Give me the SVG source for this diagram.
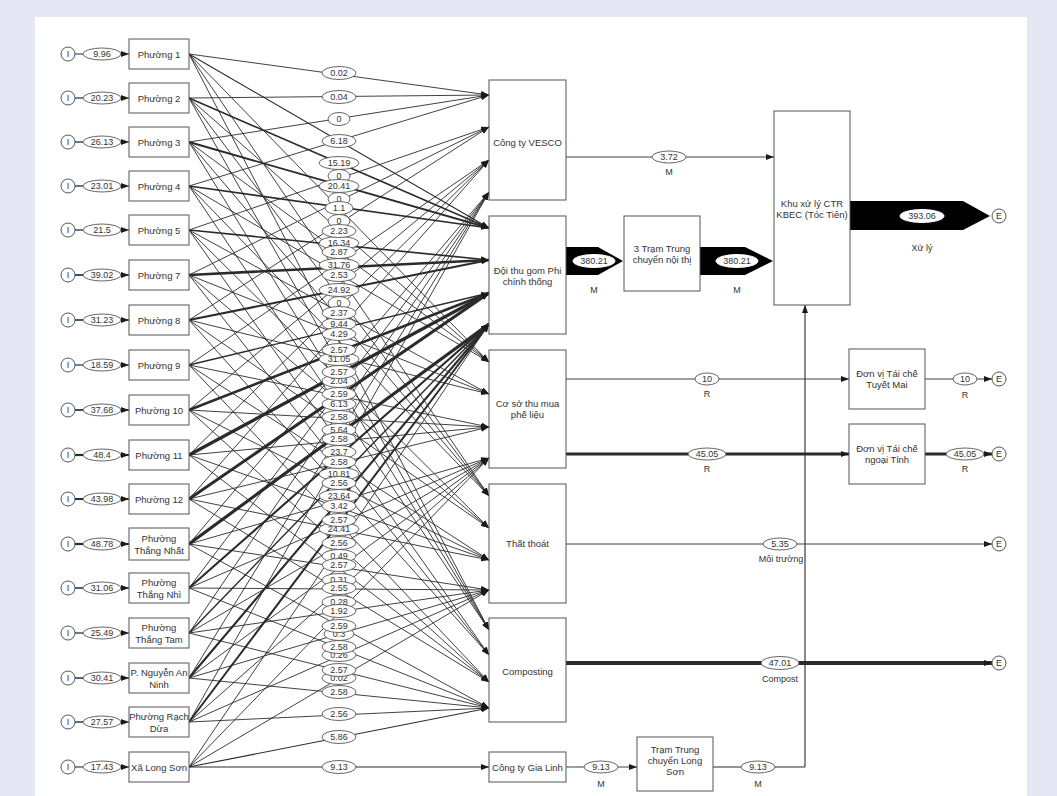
<svg xmlns="http://www.w3.org/2000/svg" width="1057" height="796" viewBox="0 0 1057 796">
<style>
.bx{fill:#fff;stroke:#555;stroke-width:1}
.t{font-family:'Liberation Sans',Arial,sans-serif;font-size:9.5px;fill:#333;text-anchor:middle;dominant-baseline:central}
.s{font-size:9px}
.el{fill:#fff;stroke:#555;stroke-width:0.9}
.f{stroke:#2b2b2b;fill:none;stroke-width:0.9}
.fa{stroke:#2b2b2b;fill:none;stroke-width:0.9;marker-end:url(#ah)}
.ci{fill:#fff;stroke:#555;stroke-width:1}
</style>
<defs>
<marker id="ah" viewBox="0 0 8 6" refX="8" refY="3" markerWidth="8" markerHeight="6" markerUnits="userSpaceOnUse" orient="auto"><path d="M0,0 L8,3 L0,6 z" fill="#1a1a1a"/></marker>
</defs>
<rect x="0" y="0" width="1057" height="796" fill="#e5e8f4"/>
<rect x="35" y="17" width="992" height="779" fill="#fff"/>

<g id="connectors">
<g id="middle-lines">
<line class="fa" x1="189" y1="54" x2="489" y2="95"/><line class="fa" x1="189" y1="54" x2="489" y2="228" style="stroke-width:1.1"/><line class="fa" x1="189" y1="54" x2="489" y2="362"/><line class="fa" x1="189" y1="54" x2="489" y2="496"/><line class="fa" x1="189" y1="54" x2="489" y2="630"/>
<line class="fa" x1="189" y1="98" x2="489" y2="95"/><line class="fa" x1="189" y1="98" x2="489" y2="228" style="stroke-width:1.6"/><line class="fa" x1="189" y1="98" x2="489" y2="362"/><line class="fa" x1="189" y1="98" x2="489" y2="496"/><line class="fa" x1="189" y1="98" x2="489" y2="630"/>
<line class="fa" x1="189" y1="142" x2="489" y2="95"/><line class="fa" x1="189" y1="142" x2="489" y2="228" style="stroke-width:1.9"/><line class="fa" x1="189" y1="142" x2="489" y2="362"/><line class="fa" x1="189" y1="142" x2="489" y2="496"/><line class="fa" x1="189" y1="142" x2="489" y2="630"/>
<line class="fa" x1="189" y1="186" x2="489" y2="95"/><line class="fa" x1="189" y1="186" x2="489" y2="228" style="stroke-width:1.7"/><line class="fa" x1="189" y1="186" x2="489" y2="362"/><line class="fa" x1="189" y1="186" x2="489" y2="496"/><line class="fa" x1="189" y1="186" x2="489" y2="630"/>
<line class="fa" x1="189" y1="230" x2="489" y2="127"/><line class="fa" x1="189" y1="230" x2="489" y2="260" style="stroke-width:1.7"/><line class="fa" x1="189" y1="230" x2="489" y2="394"/><line class="fa" x1="189" y1="230" x2="489" y2="528"/><line class="fa" x1="189" y1="230" x2="489" y2="655"/>
<line class="fa" x1="189" y1="275" x2="489" y2="127"/><line class="fa" x1="189" y1="275" x2="489" y2="260" style="stroke-width:2.6"/><line class="fa" x1="189" y1="275" x2="489" y2="394"/><line class="fa" x1="189" y1="275" x2="489" y2="528"/><line class="fa" x1="189" y1="275" x2="489" y2="655"/>
<line class="fa" x1="189" y1="320" x2="489" y2="127"/><line class="fa" x1="189" y1="320" x2="489" y2="260" style="stroke-width:2.2"/><line class="fa" x1="189" y1="320" x2="489" y2="394"/><line class="fa" x1="189" y1="320" x2="489" y2="528"/><line class="fa" x1="189" y1="320" x2="489" y2="655"/>
<line class="fa" x1="189" y1="365" x2="489" y2="160"/><line class="fa" x1="189" y1="365" x2="489" y2="293" style="stroke-width:1.4"/><line class="fa" x1="189" y1="365" x2="489" y2="427"/><line class="fa" x1="189" y1="365" x2="489" y2="560"/><line class="fa" x1="189" y1="365" x2="489" y2="682"/>
<line class="fa" x1="189" y1="410" x2="489" y2="160"/><line class="fa" x1="189" y1="410" x2="489" y2="293" style="stroke-width:2.6"/><line class="fa" x1="189" y1="410" x2="489" y2="427"/><line class="fa" x1="189" y1="410" x2="489" y2="560"/><line class="fa" x1="189" y1="410" x2="489" y2="682"/>
<line class="fa" x1="189" y1="455" x2="489" y2="160"/><line class="fa" x1="189" y1="455" x2="489" y2="293" style="stroke-width:3.2"/><line class="fa" x1="189" y1="455" x2="489" y2="427"/><line class="fa" x1="189" y1="455" x2="489" y2="560"/><line class="fa" x1="189" y1="455" x2="489" y2="682"/>
<line class="fa" x1="189" y1="499" x2="489" y2="160"/><line class="fa" x1="189" y1="499" x2="489" y2="293" style="stroke-width:3"/><line class="fa" x1="189" y1="499" x2="489" y2="427"/><line class="fa" x1="189" y1="499" x2="489" y2="560"/><line class="fa" x1="189" y1="499" x2="489" y2="682"/>
<line class="fa" x1="189" y1="544" x2="489" y2="192"/><line class="fa" x1="189" y1="544" x2="489" y2="324" style="stroke-width:3.2"/><line class="fa" x1="189" y1="544" x2="489" y2="458"/><line class="fa" x1="189" y1="544" x2="489" y2="590"/><line class="fa" x1="189" y1="544" x2="489" y2="708"/>
<line class="fa" x1="189" y1="588" x2="489" y2="192"/><line class="fa" x1="189" y1="588" x2="489" y2="324" style="stroke-width:2.1"/><line class="fa" x1="189" y1="588" x2="489" y2="458"/><line class="fa" x1="189" y1="588" x2="489" y2="590"/><line class="fa" x1="189" y1="588" x2="489" y2="708"/>
<line class="fa" x1="189" y1="633" x2="489" y2="192"/><line class="fa" x1="189" y1="633" x2="489" y2="324" style="stroke-width:1.4"/><line class="fa" x1="189" y1="633" x2="489" y2="458"/><line class="fa" x1="189" y1="633" x2="489" y2="590"/><line class="fa" x1="189" y1="633" x2="489" y2="708"/>
<line class="fa" x1="189" y1="678" x2="489" y2="192"/><line class="fa" x1="189" y1="678" x2="489" y2="324" style="stroke-width:2.1"/><line class="fa" x1="189" y1="678" x2="489" y2="458"/><line class="fa" x1="189" y1="678" x2="489" y2="590"/><line class="fa" x1="189" y1="678" x2="489" y2="708"/>
<line class="fa" x1="189" y1="722" x2="489" y2="192"/><line class="fa" x1="189" y1="722" x2="489" y2="324" style="stroke-width:2"/><line class="fa" x1="189" y1="722" x2="489" y2="458"/><line class="fa" x1="189" y1="722" x2="489" y2="590"/><line class="fa" x1="189" y1="722" x2="489" y2="708"/>
<line class="fa" x1="189" y1="767" x2="489" y2="324"/><line class="fa" x1="189" y1="767" x2="489" y2="458"/><line class="fa" x1="189" y1="767" x2="489" y2="590"/><line class="fa" x1="189" y1="767" x2="489" y2="708" style="stroke-width:1.1"/><line class="fa" x1="189" y1="767" x2="489" y2="767" style="stroke-width:1.1"/>
</g>
<g id="middle-labels">
<ellipse class="el" cx="339" cy="176" rx="11" ry="6.5"/><text class="t s" x="339" y="176">0</text>
<ellipse class="el" cx="339" cy="199" rx="11" ry="6.5"/><text class="t s" x="339" y="199">0</text>
<ellipse class="el" cx="339" cy="221" rx="11" ry="6.5"/><text class="t s" x="339" y="221">0</text>
<ellipse class="el" cx="339" cy="243" rx="20" ry="6.5"/><text class="t s" x="339" y="243">16.34</text>
<ellipse class="el" cx="339" cy="265" rx="20" ry="6.5"/><text class="t s" x="339" y="265">31.76</text>
<ellipse class="el" cx="339" cy="303" rx="11" ry="6.5"/><text class="t s" x="339" y="303">0</text>
<ellipse class="el" cx="339" cy="324" rx="17" ry="6.5"/><text class="t s" x="339" y="324">9.44</text>
<ellipse class="el" cx="339" cy="359" rx="20" ry="6.5"/><text class="t s" x="339" y="359">31.05</text>
<ellipse class="el" cx="339" cy="381" rx="17" ry="6.5"/><text class="t s" x="339" y="381">2.04</text>
<ellipse class="el" cx="339" cy="404" rx="17" ry="6.5"/><text class="t s" x="339" y="404">6.13</text>
<ellipse class="el" cx="339" cy="430" rx="17" ry="6.5"/><text class="t s" x="339" y="430">5.64</text>
<ellipse class="el" cx="339" cy="452" rx="17" ry="6.5"/><text class="t s" x="339" y="452">23.7</text>
<ellipse class="el" cx="339" cy="474" rx="20" ry="6.5"/><text class="t s" x="339" y="474">10.81</text>
<ellipse class="el" cx="339" cy="496" rx="20" ry="6.5"/><text class="t s" x="339" y="496">23.64</text>
<ellipse class="el" cx="339" cy="529" rx="20" ry="6.5"/><text class="t s" x="339" y="529">24.41</text>
<ellipse class="el" cx="339" cy="556" rx="17" ry="6.5"/><text class="t s" x="339" y="556">0.49</text>
<ellipse class="el" cx="339" cy="580" rx="17" ry="6.5"/><text class="t s" x="339" y="580">0.31</text>
<ellipse class="el" cx="339" cy="602" rx="17" ry="6.5"/><text class="t s" x="339" y="602">0.28</text>
<ellipse class="el" cx="339" cy="634" rx="15" ry="6.5"/><text class="t s" x="339" y="634">0.3</text>
<ellipse class="el" cx="339" cy="655" rx="17" ry="6.5"/><text class="t s" x="339" y="655">0.26</text>
<ellipse class="el" cx="339" cy="678" rx="17" ry="6.5"/><text class="t s" x="339" y="678">0.02</text>
<ellipse class="el" cx="339" cy="73" rx="17" ry="6.5"/><text class="t s" x="339" y="73">0.02</text>
<ellipse class="el" cx="339" cy="97" rx="17" ry="6.5"/><text class="t s" x="339" y="97">0.04</text>
<ellipse class="el" cx="339" cy="119" rx="11" ry="6.5"/><text class="t s" x="339" y="119">0</text>
<ellipse class="el" cx="339" cy="141" rx="17" ry="6.5"/><text class="t s" x="339" y="141">6.18</text>
<ellipse class="el" cx="339" cy="163" rx="20" ry="6.5"/><text class="t s" x="339" y="163">15.19</text>
<ellipse class="el" cx="339" cy="186" rx="20" ry="6.5"/><text class="t s" x="339" y="186">20.41</text>
<ellipse class="el" cx="339" cy="208" rx="14" ry="6.5"/><text class="t s" x="339" y="208">1.1</text>
<ellipse class="el" cx="339" cy="231" rx="17" ry="6.5"/><text class="t s" x="339" y="231">2.23</text>
<ellipse class="el" cx="339" cy="252" rx="17" ry="6.5"/><text class="t s" x="339" y="252">2.87</text>
<ellipse class="el" cx="339" cy="275" rx="17" ry="6.5"/><text class="t s" x="339" y="275">2.53</text>
<ellipse class="el" cx="339" cy="290" rx="20" ry="6.5"/><text class="t s" x="339" y="290">24.92</text>
<ellipse class="el" cx="339" cy="313" rx="17" ry="6.5"/><text class="t s" x="339" y="313">2.37</text>
<ellipse class="el" cx="339" cy="334" rx="17" ry="6.5"/><text class="t s" x="339" y="334">4.29</text>
<ellipse class="el" cx="339" cy="350" rx="17" ry="6.5"/><text class="t s" x="339" y="350">2.57</text>
<ellipse class="el" cx="339" cy="372" rx="17" ry="6.5"/><text class="t s" x="339" y="372">2.57</text>
<ellipse class="el" cx="339" cy="394" rx="17" ry="6.5"/><text class="t s" x="339" y="394">2.59</text>
<ellipse class="el" cx="339" cy="417" rx="17" ry="6.5"/><text class="t s" x="339" y="417">2.58</text>
<ellipse class="el" cx="339" cy="439" rx="17" ry="6.5"/><text class="t s" x="339" y="439">2.58</text>
<ellipse class="el" cx="339" cy="462" rx="17" ry="6.5"/><text class="t s" x="339" y="462">2.58</text>
<ellipse class="el" cx="339" cy="483" rx="17" ry="6.5"/><text class="t s" x="339" y="483">2.56</text>
<ellipse class="el" cx="339" cy="506" rx="17" ry="6.5"/><text class="t s" x="339" y="506">3.42</text>
<ellipse class="el" cx="339" cy="520" rx="17" ry="6.5"/><text class="t s" x="339" y="520">2.57</text>
<ellipse class="el" cx="339" cy="543" rx="17" ry="6.5"/><text class="t s" x="339" y="543">2.56</text>
<ellipse class="el" cx="339" cy="565" rx="17" ry="6.5"/><text class="t s" x="339" y="565">2.57</text>
<ellipse class="el" cx="339" cy="588" rx="17" ry="6.5"/><text class="t s" x="339" y="588">2.55</text>
<ellipse class="el" cx="339" cy="611" rx="17" ry="6.5"/><text class="t s" x="339" y="611">1.92</text>
<ellipse class="el" cx="339" cy="626" rx="17" ry="6.5"/><text class="t s" x="339" y="626">2.59</text>
<ellipse class="el" cx="339" cy="647" rx="17" ry="6.5"/><text class="t s" x="339" y="647">2.58</text>
<ellipse class="el" cx="339" cy="670" rx="17" ry="6.5"/><text class="t s" x="339" y="670">2.57</text>
<ellipse class="el" cx="339" cy="692" rx="17" ry="6.5"/><text class="t s" x="339" y="692">2.58</text>
<ellipse class="el" cx="339" cy="714" rx="17" ry="6.5"/><text class="t s" x="339" y="714">2.56</text>
<ellipse class="el" cx="339" cy="737" rx="17" ry="6.5"/><text class="t s" x="339" y="737">5.86</text>
<ellipse class="el" cx="339" cy="767" rx="17" ry="6.5"/><text class="t s" x="339" y="767">9.13</text>
</g>
<g id="inputs">
<line class="f" x1="75" y1="54" x2="83" y2="54" style="stroke-width:1"/><ellipse class="el" cx="102" cy="54" rx="19" ry="6"/><text class="t s" x="102" y="54">9.96</text><line class="fa" x1="121" y1="54" x2="129" y2="54"/>
<line class="f" x1="75" y1="98" x2="83" y2="98" style="stroke-width:1.2"/><ellipse class="el" cx="102" cy="98" rx="19" ry="6"/><text class="t s" x="102" y="98">20.23</text><line class="fa" x1="121" y1="98" x2="129" y2="98"/>
<line class="f" x1="75" y1="142" x2="83" y2="142" style="stroke-width:1.3"/><ellipse class="el" cx="102" cy="142" rx="19" ry="6"/><text class="t s" x="102" y="142">26.13</text><line class="fa" x1="121" y1="142" x2="129" y2="142"/>
<line class="f" x1="75" y1="186" x2="83" y2="186" style="stroke-width:1.3"/><ellipse class="el" cx="102" cy="186" rx="19" ry="6"/><text class="t s" x="102" y="186">23.01</text><line class="fa" x1="121" y1="186" x2="129" y2="186"/>
<line class="f" x1="75" y1="230" x2="83" y2="230" style="stroke-width:1.3"/><ellipse class="el" cx="102" cy="230" rx="19" ry="6"/><text class="t s" x="102" y="230">21.5</text><line class="fa" x1="121" y1="230" x2="129" y2="230"/>
<line class="f" x1="75" y1="275" x2="83" y2="275" style="stroke-width:1.7"/><ellipse class="el" cx="102" cy="275" rx="19" ry="6"/><text class="t s" x="102" y="275">39.02</text><line class="fa" x1="121" y1="275" x2="129" y2="275" style="stroke-width:1.5"/>
<line class="f" x1="75" y1="320" x2="83" y2="320" style="stroke-width:1.6"/><ellipse class="el" cx="102" cy="320" rx="19" ry="6"/><text class="t s" x="102" y="320">31.23</text><line class="fa" x1="121" y1="320" x2="129" y2="320" style="stroke-width:1.4"/>
<line class="f" x1="75" y1="365" x2="83" y2="365" style="stroke-width:1.2"/><ellipse class="el" cx="102" cy="365" rx="19" ry="6"/><text class="t s" x="102" y="365">18.59</text><line class="fa" x1="121" y1="365" x2="129" y2="365"/>
<line class="f" x1="75" y1="410" x2="83" y2="410" style="stroke-width:1.7"/><ellipse class="el" cx="102" cy="410" rx="19" ry="6"/><text class="t s" x="102" y="410">37.68</text><line class="fa" x1="121" y1="410" x2="129" y2="410" style="stroke-width:1.5"/>
<line class="f" x1="75" y1="455" x2="83" y2="455" style="stroke-width:2.2"/><ellipse class="el" cx="102" cy="455" rx="19" ry="6"/><text class="t s" x="102" y="455">48.4</text><line class="fa" x1="121" y1="455" x2="129" y2="455" style="stroke-width:2"/>
<line class="f" x1="75" y1="499" x2="83" y2="499" style="stroke-width:2"/><ellipse class="el" cx="102" cy="499" rx="19" ry="6"/><text class="t s" x="102" y="499">43.98</text><line class="fa" x1="121" y1="499" x2="129" y2="499" style="stroke-width:1.8"/>
<line class="f" x1="75" y1="544" x2="83" y2="544" style="stroke-width:2.2"/><ellipse class="el" cx="102" cy="544" rx="19" ry="6"/><text class="t s" x="102" y="544">48.78</text><line class="fa" x1="121" y1="544" x2="129" y2="544" style="stroke-width:2"/>
<line class="f" x1="75" y1="588" x2="83" y2="588" style="stroke-width:1.5"/><ellipse class="el" cx="102" cy="588" rx="19" ry="6"/><text class="t s" x="102" y="588">31.06</text><line class="fa" x1="121" y1="588" x2="129" y2="588" style="stroke-width:1.3"/>
<line class="f" x1="75" y1="633" x2="83" y2="633" style="stroke-width:1.3"/><ellipse class="el" cx="102" cy="633" rx="19" ry="6"/><text class="t s" x="102" y="633">25.49</text><line class="fa" x1="121" y1="633" x2="129" y2="633"/>
<line class="f" x1="75" y1="678" x2="83" y2="678" style="stroke-width:1.5"/><ellipse class="el" cx="102" cy="678" rx="19" ry="6"/><text class="t s" x="102" y="678">30.41</text><line class="fa" x1="121" y1="678" x2="129" y2="678" style="stroke-width:1.3"/>
<line class="f" x1="75" y1="722" x2="83" y2="722" style="stroke-width:1.4"/><ellipse class="el" cx="102" cy="722" rx="19" ry="6"/><text class="t s" x="102" y="722">27.57</text><line class="fa" x1="121" y1="722" x2="129" y2="722"/>
<line class="f" x1="75" y1="767" x2="83" y2="767" style="stroke-width:1.1"/><ellipse class="el" cx="102" cy="767" rx="19" ry="6"/><text class="t s" x="102" y="767">17.43</text><line class="fa" x1="121" y1="767" x2="129" y2="767"/>
</g>
<g id="right-flows">
<line class="f" x1="805" y1="767" x2="805" y2="305" style="marker-end:url(#ah);stroke-width:1.1"/>
<line class="fa" x1="566" y1="157" x2="774" y2="157"/>
<ellipse class="el" cx="669" cy="157" rx="17" ry="6"/><text class="t s" x="669" y="157">3.72</text><text class="t s" x="669" y="172">M</text>
<polygon points="566,247 598,247 623,261 598,275 566,275" fill="#000"/>
<ellipse cx="594" cy="261" rx="21" ry="6.5" fill="#fff" stroke="#fff"/><text class="t s" x="594" y="261">380.21</text><text class="t s" x="594" y="290">M</text>
<polygon points="700,247 745,247 773,261 745,275 700,275" fill="#000"/>
<ellipse cx="737" cy="261" rx="21" ry="6.5" fill="#fff" stroke="#fff"/><text class="t s" x="737" y="261">380.21</text><text class="t s" x="737" y="290">M</text>
<polygon points="850,201 963,201 990,216 963,230 850,230" fill="#000"/>
<ellipse cx="922" cy="216" rx="22" ry="6.5" fill="#fff" stroke="#fff"/><text class="t s" x="922" y="216">393.06</text><text class="t s" x="922" y="248">Xử lý</text>
<line class="fa" x1="566" y1="379" x2="849" y2="379"/>
<ellipse class="el" cx="707" cy="379" rx="12" ry="6"/><text class="t s" x="707" y="379">10</text><text class="t s" x="707" y="394">R</text>
<line class="fa" x1="566" y1="454" x2="849" y2="454" style="stroke-width:3"/>
<ellipse class="el" cx="707" cy="454" rx="19" ry="6"/><text class="t s" x="707" y="454">45.05</text><text class="t s" x="707" y="469">R</text>
<line class="fa" x1="925" y1="379" x2="992" y2="379"/>
<ellipse class="el" cx="965" cy="379" rx="12" ry="6"/><text class="t s" x="965" y="379">10</text><text class="t s" x="965" y="395">R</text>
<line class="fa" x1="925" y1="454" x2="992" y2="454" style="stroke-width:3"/>
<ellipse class="el" cx="965" cy="454" rx="19" ry="6"/><text class="t s" x="965" y="454">45.05</text><text class="t s" x="965" y="469">R</text>
<line class="fa" x1="566" y1="544" x2="992" y2="544"/>
<ellipse class="el" cx="780" cy="544" rx="17" ry="6"/><text class="t s" x="780" y="544">5.35</text><text class="t s" x="781" y="559">Môi trường</text>
<line class="fa" x1="566" y1="663" x2="992" y2="663" style="stroke-width:4"/>
<ellipse class="el" cx="780" cy="663" rx="19" ry="6.5"/><text class="t s" x="780" y="663">47.01</text><text class="t s" x="780" y="679">Compost</text>
<line class="fa" x1="566" y1="767" x2="637" y2="767"/>
<ellipse class="el" cx="601" cy="767" rx="17" ry="6"/><text class="t s" x="601" y="767">9.13</text><text class="t s" x="601" y="784">M</text>
<line class="f" x1="713" y1="767" x2="805" y2="767" style="stroke-width:1.1"/>
<ellipse class="el" cx="758" cy="767" rx="17" ry="6"/><text class="t s" x="758" y="767">9.13</text><text class="t s" x="758" y="784">M</text>
</g>
</g>

<g id="sources">
<g id="i-p1"><circle class="ci" cx="68" cy="54" r="7"/><text class="t s" x="68" y="54">I</text></g>
<g id="i-p2"><circle class="ci" cx="68" cy="98" r="7"/><text class="t s" x="68" y="98">I</text></g>
<g id="i-p3"><circle class="ci" cx="68" cy="142" r="7"/><text class="t s" x="68" y="142">I</text></g>
<g id="i-p4"><circle class="ci" cx="68" cy="186" r="7"/><text class="t s" x="68" y="186">I</text></g>
<g id="i-p5"><circle class="ci" cx="68" cy="230" r="7"/><text class="t s" x="68" y="230">I</text></g>
<g id="i-p7"><circle class="ci" cx="68" cy="275" r="7"/><text class="t s" x="68" y="275">I</text></g>
<g id="i-p8"><circle class="ci" cx="68" cy="320" r="7"/><text class="t s" x="68" y="320">I</text></g>
<g id="i-p9"><circle class="ci" cx="68" cy="365" r="7"/><text class="t s" x="68" y="365">I</text></g>
<g id="i-p10"><circle class="ci" cx="68" cy="410" r="7"/><text class="t s" x="68" y="410">I</text></g>
<g id="i-p11"><circle class="ci" cx="68" cy="455" r="7"/><text class="t s" x="68" y="455">I</text></g>
<g id="i-p12"><circle class="ci" cx="68" cy="499" r="7"/><text class="t s" x="68" y="499">I</text></g>
<g id="i-tn"><circle class="ci" cx="68" cy="544" r="7"/><text class="t s" x="68" y="544">I</text></g>
<g id="i-tnhi"><circle class="ci" cx="68" cy="588" r="7"/><text class="t s" x="68" y="588">I</text></g>
<g id="i-ttam"><circle class="ci" cx="68" cy="633" r="7"/><text class="t s" x="68" y="633">I</text></g>
<g id="i-nan"><circle class="ci" cx="68" cy="678" r="7"/><text class="t s" x="68" y="678">I</text></g>
<g id="i-rd"><circle class="ci" cx="68" cy="722" r="7"/><text class="t s" x="68" y="722">I</text></g>
<g id="i-ls"><circle class="ci" cx="68" cy="767" r="7"/><text class="t s" x="68" y="767">I</text></g>

<g id="p1"><rect class="bx" x="129" y="39" width="60" height="30"/><text class="t" x="159" y="54">Phường 1</text></g>
<g id="p2"><rect class="bx" x="129" y="83" width="60" height="30"/><text class="t" x="159" y="98">Phường 2</text></g>
<g id="p3"><rect class="bx" x="129" y="127" width="60" height="30"/><text class="t" x="159" y="142">Phường 3</text></g>
<g id="p4"><rect class="bx" x="129" y="171" width="60" height="30"/><text class="t" x="159" y="186">Phường 4</text></g>
<g id="p5"><rect class="bx" x="129" y="215" width="60" height="30"/><text class="t" x="159" y="230">Phường 5</text></g>
<g id="p7"><rect class="bx" x="129" y="260" width="60" height="30"/><text class="t" x="159" y="275">Phường 7</text></g>
<g id="p8"><rect class="bx" x="129" y="305" width="60" height="30"/><text class="t" x="159" y="320">Phường 8</text></g>
<g id="p9"><rect class="bx" x="129" y="350" width="60" height="30"/><text class="t" x="159" y="365">Phường 9</text></g>
<g id="p10"><rect class="bx" x="129" y="395" width="60" height="30"/><text class="t" x="159" y="410">Phường 10</text></g>
<g id="p11"><rect class="bx" x="129" y="440" width="60" height="30"/><text class="t" x="159" y="455">Phường 11</text></g>
<g id="p12"><rect class="bx" x="129" y="484" width="60" height="30"/><text class="t" x="159" y="499">Phường 12</text></g>
<g id="tn"><rect class="bx" x="129" y="528" width="60" height="32"/><text class="t" x="159" y="538">Phường</text><text class="t" x="159" y="550">Thắng Nhất</text></g>
<g id="tnhi"><rect class="bx" x="129" y="573" width="60" height="30"/><text class="t" x="159" y="582">Phường</text><text class="t" x="159" y="594">Thắng Nhì</text></g>
<g id="ttam"><rect class="bx" x="129" y="618" width="60" height="30"/><text class="t" x="159" y="627">Phường</text><text class="t" x="159" y="639">Thắng Tam</text></g>
<g id="nan"><rect class="bx" x="129" y="663" width="60" height="30"/><text class="t" x="159" y="672">P. Nguyễn An</text><text class="t" x="159" y="684">Ninh</text></g>
<g id="rd"><rect class="bx" x="129" y="707" width="60" height="30"/><text class="t" x="159" y="716">Phường Rạch</text><text class="t" x="159" y="728">Dừa</text></g>
<g id="ls"><rect class="bx" x="129" y="752" width="60" height="30"/><text class="t" x="159" y="767">Xã Long Sơn</text></g>
</g>

<g id="vesco"><rect class="bx" x="489" y="80" width="77" height="120"/><text class="t" x="527.5" y="142">Công ty VESCO</text></g>
<g id="doi"><rect class="bx" x="489" y="216" width="77" height="118"/><text class="t" x="527.5" y="270">Đội thu gom Phi</text><text class="t" x="527.5" y="281">chính thống</text></g>
<g id="coso"><rect class="bx" x="489" y="350" width="77" height="118"/><text class="t" x="527.5" y="403">Cơ sở thu mua</text><text class="t" x="527.5" y="414">phế liệu</text></g>
<g id="thatthoat"><rect class="bx" x="489" y="484" width="77" height="119"/><text class="t" x="527.5" y="543">Thất thoát</text></g>
<g id="composting"><rect class="bx" x="489" y="618" width="77" height="104"/><text class="t" x="527.5" y="671">Composting</text></g>
<g id="gialinh"><rect class="bx" x="489" y="752" width="77" height="30"/><text class="t" x="527.5" y="767">Công ty Gia Linh</text></g>
<g id="tram3"><rect class="bx" x="624" y="216" width="76" height="75"/><text class="t" x="662" y="248">3 Trạm Trung</text><text class="t" x="662" y="259">chuyển nội thị</text></g>
<g id="kbec"><rect class="bx" x="774" y="111" width="76" height="194"/><text class="t" x="812" y="203">Khu xử lý CTR</text><text class="t" x="812" y="214">KBEC (Tóc Tiên)</text></g>
<g id="tuyetmai"><rect class="bx" x="849" y="349" width="76" height="60"/><text class="t" x="887" y="373">Đơn vị Tái chế</text><text class="t" x="887" y="384">Tuyết Mai</text></g>
<g id="ngoaitinh"><rect class="bx" x="849" y="424" width="76" height="60"/><text class="t" x="887" y="448">Đơn vị Tái chế</text><text class="t" x="887" y="459">ngoại Tỉnh</text></g>
<g id="tramls"><rect class="bx" x="637" y="737" width="76" height="54"/><text class="t" x="675" y="749">Trạm Trung</text><text class="t" x="675" y="760">chuyển Long</text><text class="t" x="675" y="771">Sơn</text></g>
<g id="e1"><circle class="ci" cx="999" cy="216" r="7"/><text class="t s" x="999" y="216">E</text></g>
<g id="e2"><circle class="ci" cx="999" cy="379" r="7"/><text class="t s" x="999" y="379">E</text></g>
<g id="e3"><circle class="ci" cx="999" cy="454" r="7"/><text class="t s" x="999" y="454">E</text></g>
<g id="e4"><circle class="ci" cx="999" cy="544" r="7"/><text class="t s" x="999" y="544">E</text></g>
<g id="e5"><circle class="ci" cx="999" cy="663" r="7"/><text class="t s" x="999" y="663">E</text></g>
</svg>
